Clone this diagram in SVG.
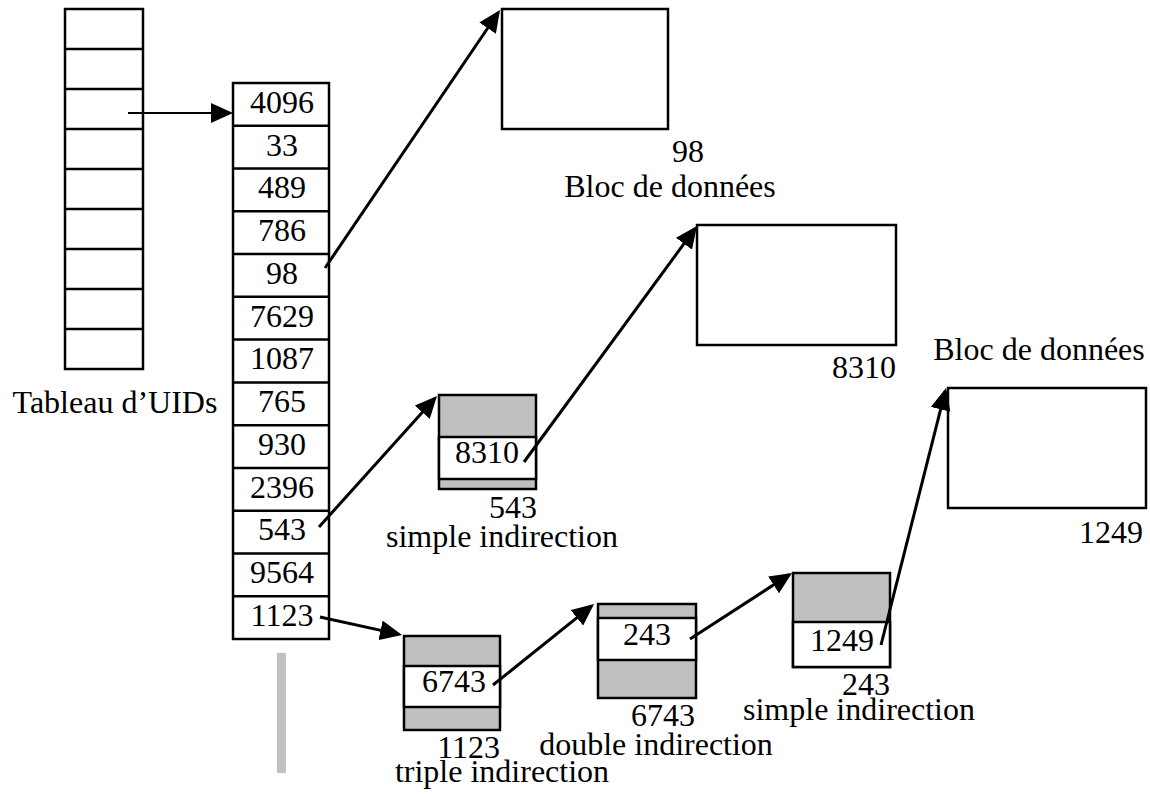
<svg xmlns="http://www.w3.org/2000/svg" width="1150" height="794" viewBox="0 0 1150 794">
<defs>
<style>
.m{text-anchor:middle}
.e{text-anchor:end}
.box{fill:#fff;stroke:#000;stroke-width:2.5}
.g{fill:#c0c0c0;stroke:#000;stroke-width:2.5}
.sep{stroke:#000;stroke-width:2.5}
.arr{stroke:#000;stroke-width:3;fill:none;marker-end:url(#ah)}
</style>
<marker id="ah" viewBox="0 0 22 20" refX="19" refY="10" markerWidth="22" markerHeight="20" markerUnits="userSpaceOnUse" orient="auto">
<path d="M0,0 L22,10 L0,20 z" fill="#000"/>
</marker>
</defs>
<rect width="1150" height="794" fill="#fff"/>

<g font-family="'Liberation Serif', 'Times New Roman', 'DejaVu Serif', serif" font-size="32" fill="#000">

<g id="uid-table">
<rect class="box" x="65" y="9" width="78" height="360"/>
<path class="sep" d="M65,49H143M65,89H143M65,129H143M65,169H143M65,209H143M65,249H143M65,289H143M65,329H143"/>
<text class="m" x="115" y="413">Tableau d’UIDs</text>
</g>

<g id="inode-column">
<rect class="box" x="233" y="83" width="96" height="556"/>
<path class="sep" d="M233,125.8H329M233,168.5H329M233,211.3H329M233,254.1H329M233,296.8H329M233,339.6H329M233,382.4H329M233,425.2H329M233,467.9H329M233,510.7H329M233,553.5H329M233,596.2H329"/>
<text class="m" x="282" y="113">4096</text>
<text class="m" x="282" y="156">33</text>
<text class="m" x="282" y="198">489</text>
<text class="m" x="282" y="241">786</text>
<text class="m" x="282" y="284">98</text>
<text class="m" x="282" y="327">7629</text>
<text class="m" x="282" y="369">1087</text>
<text class="m" x="282" y="412">765</text>
<text class="m" x="282" y="455">930</text>
<text class="m" x="282" y="498">2396</text>
<text class="m" x="282" y="540">543</text>
<text class="m" x="282" y="583">9564</text>
<text class="m" x="282" y="626">1123</text>
</g>

<g id="gray-bar">
<rect x="277" y="653" width="9" height="120" fill="#c0c0c0"/>
</g>

<g id="data-block-98">
<rect class="box" x="502" y="9" width="166" height="120"/>
<text class="m" x="688" y="162">98</text>
<text class="m" x="670" y="197">Bloc de données</text>
</g>

<g id="data-block-8310">
<rect class="box" x="697" y="225" width="199" height="120"/>
<text class="e" x="896" y="378">8310</text>
</g>

<g id="data-block-1249">
<text class="m" x="1039" y="360">Bloc de données</text>
<rect class="box" x="948" y="388" width="198" height="120"/>
<text class="e" x="1143" y="543">1249</text>
</g>

<g id="simple-indirection-543">
<rect class="g" x="439" y="395" width="97" height="94"/>
<rect class="box" x="439" y="437" width="97" height="42"/>
<text class="m" x="487" y="463">8310</text>
<text class="e" x="537" y="518">543</text>
<text class="m" x="502" y="547">simple indirection</text>
</g>

<g id="triple-indirection-1123">
<rect class="g" x="404" y="636" width="96" height="94"/>
<rect class="box" x="404" y="666" width="96" height="41"/>
<text class="m" x="454" y="692">6743</text>
<text class="e" x="500" y="758">1123</text>
<text class="m" x="502" y="782">triple indirection</text>
</g>

<g id="double-indirection-6743">
<rect class="g" x="598" y="604" width="98" height="94"/>
<rect class="box" x="598" y="618" width="98" height="42"/>
<text class="m" x="647" y="645">243</text>
<text class="e" x="695" y="726">6743</text>
<text class="m" x="656" y="755">double indirection</text>
</g>

<g id="simple-indirection-243">
<rect class="g" x="793" y="573" width="97" height="94"/>
<rect class="box" x="793" y="622" width="97" height="45"/>
<text class="m" x="842" y="651">1249</text>
<text class="e" x="890" y="695">243</text>
<text class="m" x="859" y="720">simple indirection</text>
</g>

</g>

<g id="connectors">
<line class="arr" x1="128" y1="113" x2="230" y2="113" style="stroke-width:2"/>
<line class="arr" x1="325" y1="268" x2="498.3" y2="12.5"/>
<line class="arr" x1="319" y1="527" x2="435" y2="398.2"/>
<line class="arr" x1="524" y1="462" x2="695.2" y2="228.4"/>
<line class="arr" x1="320" y1="617" x2="399.1" y2="634.4"/>
<line class="arr" x1="493" y1="685" x2="591.7" y2="605.9"/>
<line class="arr" x1="690" y1="639" x2="789.5" y2="574.6"/>
<line class="arr" x1="881" y1="645" x2="945.3" y2="390.9"/>
</g>
</svg>
